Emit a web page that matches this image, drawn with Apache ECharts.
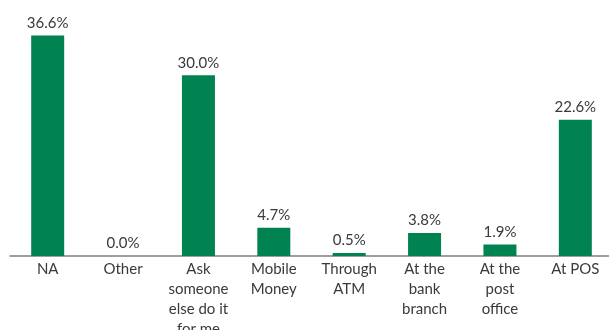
<!DOCTYPE html>
<html>
<head>
<meta charset="utf-8">
<script src="https://cdn.jsdelivr.net/npm/echarts@6/dist/echarts.min.js"></script>
<style>
  html, body { margin: 0; padding: 0; background: #ffffff; }
  #chart { width: 609px; height: 330px; }
</style>
</head>
<body>
<div id="chart"></div>
<script>
// Channel categories (multi-line labels) and share of respondents, in percent
const categories = [
  "NA",
  "Other",
  "Ask\nsomeone\nelse do it\nfor me",
  "Mobile\nMoney",
  "Through\nATM",
  "At the\nbank\nbranch",
  "At the\npost\noffice",
  "At POS"
];
const shares = [36.6, 0.0, 30.0, 4.7, 0.5, 3.8, 1.9, 22.6];

const barColor = "#008350";
const textColor = "#3a3a3a";
const fontFamily = "Lato, 'Noto Sans', sans-serif";

const chart = echarts.init(document.getElementById("chart"), null, { renderer: "canvas" });

chart.setOption({
  animation: false,
  grid: {
    left: 10, right: -4, top: 15, bottom: 74,
    containLabel: false,
    outerBoundsMode: "none"
  },
  xAxis: {
    type: "category",
    data: categories,
    axisLine: { show: true, lineStyle: { color: "#7f7f7f", width: 1.5 } },
    axisTick: { show: false },
    axisLabel: {
      interval: 0,
      color: textColor,
      fontFamily: fontFamily,
      fontSize: 15,
      lineHeight: 20,
      margin: 3
    }
  },
  yAxis: {
    type: "value",
    min: 0,
    max: 40,
    show: false,
    splitLine: { show: false }
  },
  series: [{
    type: "bar",
    data: shares,
    barWidth: 33,
    itemStyle: { color: barColor },
    label: {
      show: true,
      position: "top",
      distance: 5,
      color: textColor,
      fontFamily: fontFamily,
      fontSize: 15,
      formatter: p => p.value.toFixed(1) + "%"
    }
  }]
});
</script>
</body>
</html>
